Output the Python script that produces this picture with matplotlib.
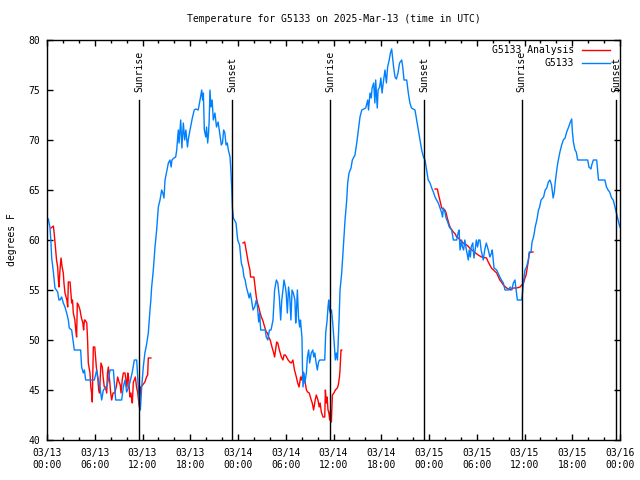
import numpy as np
import pandas as pd
import matplotlib
matplotlib.use("Agg")
import matplotlib.pyplot as plt
import matplotlib.dates as mdates

# =====================
# data (hours since 2025-03-13 00:00 UTC, deg F)
# =====================
START = pd.Timestamp("2025-03-13 00:00")

obs_hours = [
    0.17, 0.38, 0.5, 0.59, 0.8, 1.0, 1.34, 1.5, 1.63, 1.84, 2.05, 2.26, 2.47, 2.68, 2.8, 3.1,
    3.31, 3.43, 4.23, 4.35, 4.56, 4.7, 4.86, 5.95, 6.24, 6.45, 6.66, 6.87, 7.08, 7.5, 7.71, 7.92,
    8.34, 8.63, 9.38, 9.59, 9.8, 10.01, 10.2, 10.43, 10.72, 10.97, 11.27, 11.39, 11.56, 11.73,
    11.9, 12.1, 12.3, 12.5, 12.73, 12.94, 13.05, 13.15, 13.36, 13.57, 13.78, 13.99, 14.2, 14.41,
    14.55, 14.7, 14.83, 15.0, 15.25, 15.45, 15.6, 15.7, 15.95, 16.17, 16.3, 16.4, 16.5, 16.6,
    16.8, 16.95, 17.13, 17.3, 17.45, 17.65, 17.75, 17.9, 18.26, 18.5, 18.7, 19.0, 19.23, 19.44,
    19.55, 19.65, 19.77, 19.95, 20.05, 20.19, 20.3, 20.38, 20.48, 20.6, 20.75, 20.9, 21.1, 21.3,
    21.5, 21.7, 21.9, 22.05, 22.2, 22.35, 22.5, 22.65, 22.79, 23.0, 23.1, 23.21, 23.3, 23.42,
    23.75, 23.96, 24.2, 24.42, 24.6, 24.75, 24.9, 25.05, 25.25, 25.4, 25.55, 25.7, 25.89, 26.1,
    26.3, 26.45, 26.6, 26.72, 26.85, 27.43, 27.55, 27.75, 27.95, 28.15, 28.4, 28.6, 28.82, 29.0,
    29.2, 29.36, 29.5, 29.65, 29.78, 29.95, 30.05, 30.2, 30.35, 30.5, 30.65, 30.79, 30.95, 31.15,
    31.25, 31.35, 31.46, 31.6, 31.75, 31.85, 31.95, 32.04, 32.1, 32.17, 32.3, 32.4, 32.59, 32.72,
    32.88, 33.0, 33.2, 33.4, 33.52, 33.66, 33.8, 33.97, 34.12, 34.27, 34.9, 35.02, 35.2, 35.31,
    35.4, 35.5, 35.6, 35.75, 35.9, 36.06, 36.23, 36.35, 36.5, 36.6, 36.7, 36.82, 37.03, 37.24,
    37.45, 37.66, 37.78, 37.95, 38.2, 38.37, 38.7, 38.92, 39.12, 39.33, 39.55, 40.05, 40.3, 40.4,
    40.59, 40.75, 40.85, 41.05, 41.2, 41.3, 41.5, 41.6, 41.8, 41.95, 42.1, 42.25, 42.47, 42.65,
    42.8, 43.0, 43.15, 43.31, 43.45, 43.55, 43.73, 43.9, 44.1, 44.3, 44.57, 44.7, 44.86, 45.2,
    45.4, 45.6, 45.8, 46.24, 46.45, 46.65, 46.87, 47.08, 47.3, 47.5, 47.7, 47.9, 48.13, 48.34,
    48.55, 48.76, 48.95, 49.17, 49.38, 49.6, 49.7, 49.8, 50.0, 50.14, 50.35, 50.55, 50.85, 51.06,
    51.48, 51.65, 51.78, 51.9, 52.1, 52.2, 52.35, 52.5, 52.7, 52.94, 53.05, 53.2, 53.3, 53.5,
    53.65, 53.8, 53.95, 54.1, 54.25, 54.4, 54.55, 54.82, 55.0, 55.2, 55.45, 55.65, 55.85, 55.95,
    56.17, 56.5, 56.9, 57.1, 57.34, 57.55, 57.97, 58.2, 58.4, 58.6, 58.8, 58.95, 59.1, 59.65,
    59.75, 59.9, 60.06, 60.25, 60.48, 60.6, 60.82, 60.95, 61.13, 61.25, 61.34, 61.55, 61.76, 61.9,
    62.08, 62.4, 62.6, 62.8, 63.0, 63.2, 63.4, 63.6, 63.75, 63.85, 64.0, 64.1, 64.25, 64.45,
    64.67, 64.88, 65.1, 65.3, 65.5, 65.72, 65.93, 66.0, 66.14, 66.35, 66.5, 66.68, 67.94, 68.1,
    68.35, 68.45, 68.65, 69.07, 69.2, 69.3, 70.1, 70.3, 70.5, 70.7, 70.94, 71.15, 71.36, 71.55,
    71.77, 71.98,
]
obs_temps = [
    62.1, 61.2, 59.7, 58.2, 56.8, 55.2, 54.8, 54.0, 54.0, 54.3, 53.7, 53.3, 52.7, 52.0, 51.2, 51.0,
    49.7, 49.0, 49.0, 47.3, 46.7, 47.0, 46.0, 46.0, 47.0, 46.0, 45.3, 44.0, 45.0, 45.3, 46.0, 47.0,
    47.0, 44.0, 44.0, 45.3, 46.0, 44.8, 45.2, 45.8, 46.8, 48.0, 48.0, 46.3, 44.0, 43.0,
    45.3, 47.3, 48.7, 49.5, 50.7, 53.0, 54.0, 55.3, 57.0, 59.3, 61.0, 63.3, 64.0, 65.0,
    64.7, 64.2, 66.0, 66.7, 67.7, 68.0, 67.3, 68.0, 68.2, 68.3, 69.0, 70.0, 71.0, 69.7,
    72.0, 69.2, 71.7, 70.0, 71.0, 69.3, 70.0, 70.7, 72.2, 73.0, 73.1, 73.0, 74.0, 75.0,
    74.0, 74.7, 71.0, 70.3, 71.3, 69.7, 70.7, 72.0, 75.0, 73.3, 74.0, 72.0, 72.7, 71.3,
    71.8, 70.7, 69.5, 69.7, 71.0, 70.7, 69.5, 69.7, 69.0, 68.3, 67.0, 65.2, 63.2, 62.2,
    61.7, 60.0, 59.5, 57.7, 57.2, 56.3, 56.0, 55.3, 54.7, 54.2, 54.7, 54.0, 53.0, 53.3,
    54.0, 53.3, 51.8, 52.7, 51.0, 51.0, 50.3, 50.0, 51.0, 51.0, 52.0, 55.0, 56.0, 55.7,
    54.2, 52.0, 54.0, 55.0, 56.0, 55.3, 54.7, 52.7, 55.3, 54.3, 52.0, 55.0, 54.7, 54.0,
    51.7, 53.0, 55.0, 52.3, 51.3, 52.0, 51.0, 50.2, 47.3, 45.3, 46.7, 45.7, 46.7, 48.3,
    49.0, 47.7, 48.7, 49.0, 48.3, 48.7, 47.8, 47.0, 47.8, 48.0, 48.0, 50.7, 52.0, 53.3,
    54.0, 53.0, 52.7, 53.0, 51.7, 50.0, 48.0, 48.7, 48.0, 50.0, 52.0, 55.0, 56.7, 59.3,
    62.0, 64.0, 65.7, 66.7, 67.2, 68.0, 68.5, 69.7, 71.0, 72.3, 73.0, 73.2, 74.0, 73.0,
    74.7, 74.2, 75.2, 75.7, 73.7, 76.0, 73.2, 75.0, 75.3, 76.2, 74.7, 75.7, 77.0, 75.7,
    77.3, 78.0, 78.7, 79.1, 78.0, 77.3, 76.3, 76.1, 76.7, 77.7, 78.0, 77.3, 76.0, 76.0,
    74.7, 73.7, 73.2, 73.0, 72.0, 71.0, 70.0, 69.0, 68.3, 68.0, 67.0, 66.0, 65.7, 65.2,
    64.8, 64.3, 64.0, 63.7, 63.2, 62.7, 62.3, 63.2, 62.8, 62.2, 61.8, 61.3, 61.0, 60.0,
    60.0, 60.7, 61.0, 59.0, 60.0, 59.3, 59.0, 60.0, 59.0, 58.0, 59.0, 58.3, 59.3, 59.7,
    58.2, 59.0, 60.0, 59.3, 60.0, 60.0, 59.0, 58.0, 59.0, 59.7, 59.0, 58.3, 58.7, 59.0,
    57.2, 57.0, 56.3, 56.0, 55.7, 55.0, 55.0, 55.3, 55.0, 55.7, 56.0, 55.0, 54.0, 54.0,
    54.7, 56.0, 57.0, 57.3, 58.0, 58.8, 58.8, 59.8, 60.3, 60.8, 61.3, 62.0, 63.0, 63.3,
    64.0, 64.3, 65.0, 65.2, 65.8, 66.0, 65.5, 64.2, 64.8, 65.7, 66.7, 67.3, 68.0, 68.8,
    69.5, 70.0, 70.2, 70.8, 71.2, 71.7, 72.1, 71.0, 69.8, 69.0, 68.8, 68.0, 68.0, 67.3,
    67.1, 67.5, 68.0, 68.0, 66.8, 66.0, 66.0, 65.3, 65.0, 64.8, 64.2, 64.0, 63.3, 62.7,
    62.0, 61.3,
]

# analysis series, NaN marks the gaps between the three runs
ana_hours = [
    0.5, 0.8, 0.9, 1.09, 1.2, 1.34, 1.43, 1.51, 1.63, 1.76, 1.9, 2.05, 2.13, 2.26, 2.4, 2.5,
    2.6, 2.68, 2.9, 3.0, 3.1, 3.2, 3.31, 3.5, 3.64, 3.72, 3.81, 3.95, 4.15, 4.3, 4.4, 4.5,
    4.6, 4.7, 4.78, 5.0, 5.1, 5.19, 5.4, 5.5, 5.6, 5.69, 5.82, 6.0, 6.2, 6.4, 6.5, 6.6,
    6.78, 6.95, 7.05, 7.2, 7.35, 7.5, 7.6, 7.71, 7.9, 8.0, 8.13, 8.3, 8.5, 8.7, 8.88, 9.05,
    9.2, 9.3, 9.45, 9.59, 9.8, 9.92, 10.05, 10.15, 10.25, 10.35, 10.43, 10.55, 10.65, 10.72,
    10.85, 10.97, 11.1, 11.25, 11.4, 11.5, 11.6, 11.77, 12.02, 12.3, 12.5, 12.65, 12.73, 13.05,
    18.0,
    24.63, 24.84, 24.95, 25.17, 25.3, 25.5, 25.58, 26.0, 26.15, 26.3, 26.45, 26.6, 26.75, 26.93,
    27.1, 27.35, 27.55, 27.7, 27.85, 28.05, 28.27, 28.45, 28.6, 28.72, 28.86, 29.0, 29.2, 29.45,
    29.65, 29.78, 29.95, 30.1, 30.3, 30.5, 30.7, 30.9, 31.1, 31.33, 31.5, 31.67, 31.87, 32.0,
    32.17, 32.3, 32.45, 32.6, 32.75, 32.95, 33.2, 33.33, 33.5, 33.7, 33.84, 34.05, 34.2, 34.32,
    34.47, 34.68, 34.9, 34.98, 35.1, 35.2, 35.31, 35.42, 35.52, 35.62, 35.73, 35.86, 36.05, 36.23,
    36.48, 36.6, 36.75, 36.82, 36.94, 37.03,
    42.0,
    48.76, 49.05, 49.15, 49.3, 49.45, 49.6, 50.0, 50.15, 50.3, 50.45, 50.55, 50.7, 51.06, 51.3,
    51.48, 51.7, 51.9, 52.3, 52.55, 52.9, 53.2, 53.56, 53.85, 54.18, 54.6, 55.23, 55.44, 55.65,
    55.85, 56.1, 56.5, 56.9, 57.1, 57.34, 57.76, 58.2, 58.6, 59.0, 59.44, 59.65, 59.88, 60.06,
    60.2, 60.3, 60.4, 60.5, 60.6, 60.94, 61.07,
]
ana_temps = [
    61.2, 61.4, 60.7, 59.0, 58.0, 57.3, 56.0, 55.3, 57.0, 58.2, 57.3, 56.7, 55.7, 54.7, 54.3, 54.0,
    53.3, 55.8, 55.8, 54.7, 53.7, 54.0, 52.7, 52.0, 50.8, 50.3, 53.7, 53.5, 53.0, 52.3, 52.0, 51.7,
    51.0, 52.0, 52.0, 51.7, 50.0, 47.7, 46.7, 45.3, 44.7, 43.8, 49.3, 49.3, 47.3, 46.0, 45.0, 44.7,
    47.7, 47.3, 46.3, 45.3, 45.3, 44.7, 46.7, 47.3, 45.7, 44.7, 44.0, 44.7, 44.7, 45.3, 46.3, 45.8,
    45.5, 44.7, 46.0, 46.7, 46.7, 46.0, 45.3, 46.7, 46.3, 45.0, 44.3, 44.7, 44.0, 43.7,
    45.8, 46.0, 46.3, 45.3, 44.7, 44.0, 43.3, 45.3, 45.5, 45.8, 46.3, 46.5, 48.2, 48.2,
    np.nan,
    59.7, 59.8, 59.3, 58.3, 57.7, 57.0, 56.3, 56.3, 55.3, 54.3, 53.7, 53.3, 52.8, 52.3,
    52.0, 51.3, 50.8, 50.7, 50.3, 50.0, 49.3, 48.8, 48.3, 49.0, 49.8, 49.7, 49.0, 48.3,
    48.0, 48.5, 48.5, 48.3, 48.0, 47.8, 47.7, 48.0, 47.0, 46.3, 45.7, 45.3, 46.3, 46.0,
    46.8, 46.2, 45.7, 45.0, 44.8, 44.7, 44.0, 43.7, 43.0, 44.0, 44.5, 44.0, 43.3, 43.7,
    42.8, 42.3, 42.3, 45.0, 43.7, 44.3, 43.0, 42.7, 42.0, 43.0, 41.8, 44.5, 44.7, 45.0,
    45.2, 45.5, 46.3, 47.0, 49.0, 49.0,
    np.nan,
    65.1, 65.1, 64.7, 64.2, 63.7, 63.2, 63.0, 62.7, 62.2, 61.8, 61.5, 61.2, 60.8, 60.6,
    60.3, 60.2, 60.0, 59.7, 59.6, 59.4, 59.1, 58.9, 58.7, 58.5, 58.3, 58.2, 57.8, 57.5,
    57.2, 57.0, 56.7, 56.0, 55.8, 55.5, 55.2, 55.0, 55.2, 55.2, 55.3, 55.5, 55.7, 56.2,
    56.5, 57.0, 57.5, 58.0, 58.7, 58.8, 58.8,
]

sun_hours = [11.6, 23.29, 35.6, 47.41, 59.65, 71.56]
sun_labels = ["Sunrise", "Sunset", "Sunrise", "Sunset", "Sunrise", "Sunset"]


def to_time(hours):
    return START + pd.to_timedelta(np.asarray(hours, dtype=float), unit="h")


# =====================
# plot
# =====================
plt.rcParams["font.family"] = ["DejaVu Sans Mono"]
plt.rcParams["font.size"] = 7

fig = plt.figure(figsize=(6.4, 4.8), dpi=100)
ax = fig.add_axes([47 / 640, 40 / 480, 573 / 640, 400 / 480])

ax.plot(to_time(ana_hours), ana_temps, color="#ff0000", lw=1, label="G5133 Analysis")
ax.plot(to_time(obs_hours), obs_temps, color="#0080ff", lw=1, label="G5133")

for h, name in zip(sun_hours, sun_labels):
    t = to_time([h])[0]
    ax.plot([t, t], [40, 74], color="black", lw=1)
    ax.text(t, 74.8, name, rotation=90, ha="center", va="bottom", fontsize=7, clip_on=False)

ax.set_xlim(to_time([0])[0], to_time([72])[0])
ax.set_ylim(40, 80)
ax.set_yticks(range(40, 81, 5))

ax.xaxis.set_major_locator(mdates.HourLocator(byhour=[0, 6, 12, 18]))
ax.xaxis.set_minor_locator(mdates.HourLocator(interval=2))
ax.xaxis.set_major_formatter(mdates.DateFormatter("%m/%d\n%H:%M"))

ax.tick_params(which="both", direction="in", top=True, right=True, labelsize=7, width=1)
ax.tick_params(which="major", length=4.3)
ax.tick_params(which="minor", length=2.2)
ax.tick_params(axis="x", pad=6)
ax.tick_params(axis="y", pad=5)
for lab in ax.get_xticklabels():
    lab.set_linespacing(1.25)
for sp in ax.spines.values():
    sp.set_linewidth(1)

ax.legend(loc="upper right", bbox_to_anchor=(0.994, 1.004), markerfirst=False,
          frameon=False, fontsize=7, handlelength=2.9, handletextpad=0.8,
          labelspacing=0.3, borderaxespad=0.3, borderpad=0.4)

fig.text(333.5 / 640, 1 - 19 / 480, "Temperature for G5133 on 2025-Mar-13 (time in UTC)",
         ha="center", va="center", fontsize=7)
fig.text(12 / 640, 0.5, "degrees F", rotation=90, ha="center", va="center", fontsize=7)

fig.savefig("out.png", dpi=100)
plt.close(fig)
